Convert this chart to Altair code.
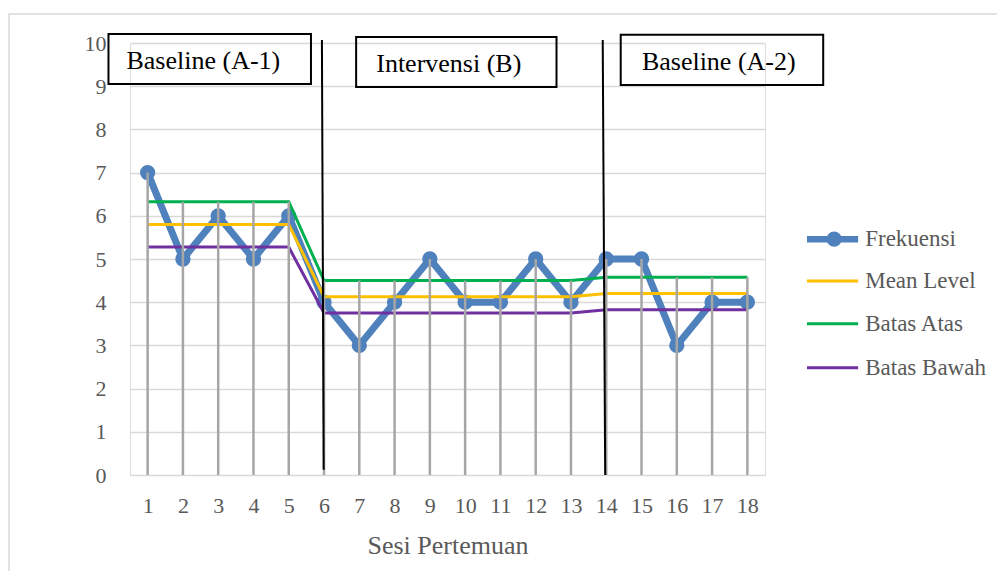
import altair as alt
import pandas as pd

# ---------------- data ----------------
sesi = [1, 2, 3, 4, 5, 6, 7, 8, 9, 10, 11, 12, 13, 14, 15, 16, 17, 18]
frekuensi = [7, 5, 6, 5, 6, 4, 3, 4, 5, 4, 4, 5, 4, 5, 5, 3, 4, 4]
mean_level = [5.8, 5.8, 5.8, 5.8, 5.8,
              4.125, 4.125, 4.125, 4.125, 4.125, 4.125, 4.125, 4.125,
              4.2, 4.2, 4.2, 4.2, 4.2]
batas_atas = [6.325, 6.325, 6.325, 6.325, 6.325,
              4.5, 4.5, 4.5, 4.5, 4.5, 4.5, 4.5, 4.5,
              4.575, 4.575, 4.575, 4.575, 4.575]
batas_bawah = [5.275, 5.275, 5.275, 5.275, 5.275,
               3.75, 3.75, 3.75, 3.75, 3.75, 3.75, 3.75, 3.75,
               3.825, 3.825, 3.825, 3.825, 3.825]

series_names = ["Frekuensi", "Mean Level", "Batas Atas", "Batas Bawah"]
series_colors = ["#4f81bd", "#ffc000", "#00b050", "#7030a0"]
y_ticks = [0, 1, 2, 3, 4, 5, 6, 7, 8, 9, 10]

# phase annotation boxes (data units)
phase_labels = ["Baseline (A-1)", "Intervensi (B)", "Baseline (A-2)"]
box_x1 = [-0.11, 6.91, 14.41]
box_x2 = [5.63, 12.59, 20.15]
box_y1 = [10.21, 10.14, 10.19]
box_y2 = [9.05, 8.98, 9.03]
label_x = [0.40, 7.48, 15.01]
label_y = [9.58, 9.51, 9.55]

# phase change lines
pl_x_top = [5.94, 13.90]
pl_x_bot = [5.99, 13.97]
pl_y_top = [10.07, 10.07]
pl_y_bot = [0.12, 0.0]

# legend placement (data units, right of plot)
leg_y = [5.46, 4.49, 3.50, 2.48]
leg_x1 = 19.69
leg_x2 = 21.14
leg_xc = 20.46
leg_xt = 21.34

FONT = "Liberation Serif"
GRAY = "#595959"

# ---------------- tables ----------------
df = pd.DataFrame({
    "Sesi": sesi,
    "Frekuensi": frekuensi,
    "Mean Level": mean_level,
    "Batas Atas": batas_atas,
    "Batas Bawah": batas_bawah,
})
df["top"] = df[series_names].max(axis=1)
df["zero"] = 0

long_df = df.melt(id_vars="Sesi", value_vars=series_names[1:],
                  var_name="Seri", value_name="Nilai")

boxes = pd.DataFrame({"label": phase_labels, "x1": box_x1, "x2": box_x2,
                      "y1": box_y1, "y2": box_y2, "lx": label_x, "ly": label_y})
plines = pd.DataFrame({"x": pl_x_top, "x2": pl_x_bot, "y": pl_y_top, "y2": pl_y_bot})
legend_df = pd.DataFrame({"Seri": series_names, "y": leg_y,
                          "x1": [leg_x1] * 4, "x2": [leg_x2] * 4,
                          "xc": [leg_xc] * 4, "xt": [leg_xt] * 4})

xscale = alt.Scale(domain=[0.5, 18.5], nice=False, zero=False)
yscale = alt.Scale(domain=[0, 10], nice=False)
cscale = alt.Scale(domain=series_names, range=series_colors)

xaxis = alt.Axis(values=sesi, grid=False, domain=False, ticks=False,
                 labelFont=FONT, labelFontSize=22, labelColor=GRAY,
                 labelPadding=20, labelFlush=False, labelOverlap=False,
                 title="Sesi Pertemuan", titleFont=FONT, titleFontSize=26,
                 titleFontWeight="normal", titleColor=GRAY, titlePadding=16)
yaxis = alt.Axis(values=y_ticks, grid=True, gridColor="#d9d9d9", gridWidth=1.5,
                 domain=False, ticks=False, labelFont=FONT, labelFontSize=22,
                 labelColor=GRAY, labelPadding=24, title=None)

X = lambda f: alt.X(f, scale=xscale, axis=xaxis)
Y = lambda f: alt.Y(f, scale=yscale, axis=yaxis)

base = alt.Chart(df)

border = alt.Chart(df).mark_rect(fillOpacity=0, stroke="#d9d9d9", strokeWidth=1.5).encode(
    x=alt.value(-121), x2=alt.value(880), y=alt.value(-29), y2=alt.value(560)
).transform_filter("datum.Sesi == 1")

freq_line = base.mark_line(color=series_colors[0], strokeWidth=7).encode(
    x=X("Sesi:Q"), y=Y("Frekuensi:Q"),
)
freq_pts = base.mark_circle(color=series_colors[0], size=235, opacity=1).encode(
    x=X("Sesi:Q"), y=Y("Frekuensi:Q"),
)
other_lines = alt.Chart(long_df).mark_line(strokeWidth=3).encode(
    x=X("Sesi:Q"), y=Y("Nilai:Q"),
    color=alt.Color("Seri:N", scale=cscale, legend=None),
    detail="Seri:N",
)
drops = base.mark_rule(color="#a6a6a6", strokeWidth=2.5).encode(
    x=X("Sesi:Q"), y=Y("zero:Q"), y2="top:Q",
)
phase_lines = alt.Chart(plines).mark_rule(color="black", strokeWidth=2).encode(
    x=X("x:Q"), x2="x2:Q", y=Y("y:Q"), y2="y2:Q",
)
box_rects = alt.Chart(boxes).mark_rect(fillOpacity=0, stroke="black", strokeWidth=2).encode(
    x=X("x1:Q"), x2="x2:Q", y=Y("y1:Q"), y2="y2:Q",
)
box_text = alt.Chart(boxes).mark_text(font=FONT, fontSize=26, color="black",
                                      align="left", baseline="middle").encode(
    x=X("lx:Q"), y=Y("ly:Q"), text="label:N",
)
leg_lines = alt.Chart(legend_df).mark_rule().encode(
    x=X("x1:Q"), x2="x2:Q", y=Y("y:Q"),
    color=alt.Color("Seri:N", scale=cscale, legend=None),
    strokeWidth=alt.condition("datum.Seri == 'Frekuensi'", alt.value(6.5), alt.value(3)),
)
leg_pt = alt.Chart(legend_df).mark_circle(size=235, opacity=1, color=series_colors[0]).encode(
    x=X("xc:Q"), y=Y("y:Q"),
).transform_filter("datum.Seri == 'Frekuensi'")
leg_text = alt.Chart(legend_df).mark_text(font=FONT, fontSize=23, color=GRAY,
                                          align="left", baseline="middle").encode(
    x=X("xt:Q"), y=Y("y:Q"), text="Seri:N",
)

chart = alt.layer(
    border, freq_line, freq_pts, other_lines, drops, phase_lines,
    box_rects, box_text, leg_lines, leg_pt, leg_text
).properties(
    width=635, height=432,
    autosize=alt.AutoSizeParams(type="none"),
    padding={"left": 122, "top": 35, "right": 232, "bottom": 96},
).configure_view(stroke=None).configure_axisX(labelOverlap=False).configure(background="white")

chart.save("out.html", embed_options={"renderer": "svg", "actions": False})
